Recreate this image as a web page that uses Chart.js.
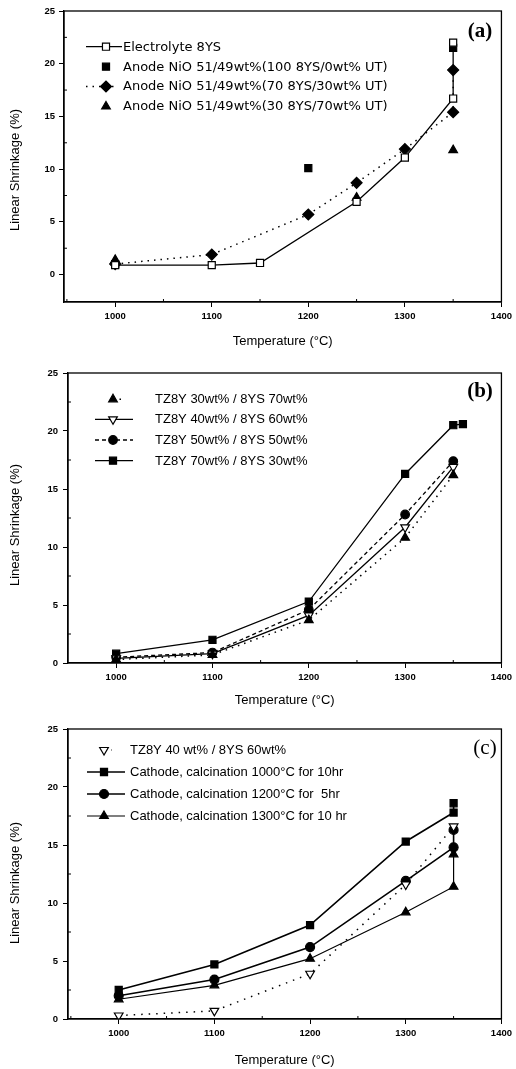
<!DOCTYPE html>
<html><head><meta charset="utf-8">
<script src="https://cdn.jsdelivr.net/npm/chart.js@4.4.1/dist/chart.umd.min.js"></script>
<style>
html,body{margin:0;padding:0;background:#fff;}
#wrap{position:relative;width:516px;height:1069px;overflow:hidden;background:#fff;}
canvas{position:absolute;left:0;}
</style></head><body>
<div id="wrap">
<canvas id="ca" width="516" height="350" style="top:0px"></canvas>
<canvas id="cb" width="516" height="362" style="top:350px"></canvas>
<canvas id="cc" width="516" height="357" style="top:712px"></canvas>
</div>
<script>
// ---------- tick labels ----------
const xTickLabels = [1000, 1100, 1200, 1300, 1400];
const xMinorTicks = [950, 1050, 1150, 1250, 1350];
const yTickLabels = [0, 5, 10, 15, 20, 25];
const yMinorTicks = [2.5, 7.5, 12.5, 17.5, 22.5];
const xTitle = 'Temperature (\u00B0C)';
const yTitle = 'Linear Shrinkage (%)';

// ---------- panel (a) ----------
const aNames = ['Electrolyte 8YS',
  'Anode NiO 51/49wt%(100 8YS/0wt% UT)',
  'Anode NiO 51/49wt%(70 8YS/30wt% UT)',
  'Anode NiO 51/49wt%(30 8YS/70wt% UT)'];
const aElectrolyteT = [1000, 1100, 1150, 1250, 1300, 1350, 1350];
const aElectrolyteS = [0.9, 0.9, 1.1, 6.9, 11.1, 16.7, 22.0];
const aAnode100T = [1000, 1200, 1350];
const aAnode100S = [1.0, 10.1, 21.5];
const aAnode70T = [1000, 1100, 1200, 1250, 1300, 1350, 1350];
const aAnode70S = [1.0, 1.9, 5.7, 8.7, 11.9, 15.4, 19.4];
const aAnode30T = [1000, 1250, 1350];
const aAnode30S = [1.4, 7.3, 11.8];

// ---------- panel (b) ----------
const bNames = ['TZ8Y 30wt% / 8YS 70wt%', 'TZ8Y 40wt% / 8YS 60wt%',
  'TZ8Y 50wt% / 8YS 50wt%', 'TZ8Y 70wt% / 8YS 30wt%'];
const bTemps = [1000, 1100, 1200, 1300, 1350];
const bTz30 = [0.3, 0.7, 3.7, 10.8, 16.2];
const bTz40 = [0.4, 0.8, 4.1, 11.7, 16.9];
const bTz50 = [0.5, 0.9, 4.6, 12.8, 17.4];
const bTz70T = [1000, 1100, 1200, 1300, 1350, 1360];
const bTz70 = [0.8, 2.0, 5.3, 16.3, 20.5, 20.6];

// ---------- panel (c) ----------
const cNames = ['TZ8Y 40 wt% / 8YS 60wt%',
  'Cathode, calcination 1000\u00B0C for 10hr',
  'Cathode, calcination 1200\u00B0C for  5hr',
  'Cathode, calcination 1300\u00B0C for 10 hr'];
const cTzT = [1000, 1100, 1200, 1300, 1350];
const cTz = [0.3, 0.7, 3.9, 11.6, 16.6];
const cCathT = [1000, 1100, 1200, 1300, 1350, 1350];
const cCath1000 = [2.5, 4.7, 8.1, 15.3, 17.8, 18.6];
const cCath1200 = [2.0, 3.4, 6.2, 11.9, 14.8, 16.3];
const cCath1300 = [1.7, 2.9, 5.2, 9.2, 11.4, 14.2];

function pts(xs, ys) { return xs.map((x, i) => ({x: x, y: ys[i]})); }

function ds(label, xs, ys, o) {
  return Object.assign({
    label: label, data: pts(xs, ys),
    borderColor: '#000', backgroundColor: '#000',
    pointBorderColor: '#000', pointBackgroundColor: '#000',
    pointBorderWidth: 1.2, borderWidth: 1.3, tension: 0,
    showLine: true, pointRadius: 5, pointHoverRadius: 5
  }, o);
}

const panelPlugin = {
  id: 'panelDeco',
  afterDraw(chart, args, opts) {
    const ctx = chart.ctx, a = chart.chartArea;
    ctx.save();
    // frame
    ctx.strokeStyle = '#000'; ctx.lineWidth = 1.3;
    ctx.strokeRect(a.left, a.top, a.right - a.left, a.bottom - a.top);
    // minor ticks (inward)
    ctx.lineWidth = 1;
    const xs = chart.scales.x, ys = chart.scales.y;
    ctx.beginPath();
    xMinorTicks.forEach(v => { const p = xs.getPixelForValue(v); if (p > a.left + 1 && p < a.right - 1) { ctx.moveTo(p, a.bottom); ctx.lineTo(p, a.bottom - 3); } });
    yMinorTicks.forEach(v => { const p = ys.getPixelForValue(v); if (p > a.top + 1 && p < a.bottom - 1) { ctx.moveTo(a.left, p); ctx.lineTo(a.left + 3, p); } });
    ctx.stroke();
    // y axis title
    ctx.save();
    ctx.fillStyle = '#000';
    ctx.font = '13px "Liberation Sans", Arial, sans-serif';
    ctx.textAlign = 'center'; ctx.textBaseline = 'middle';
    ctx.translate(15, opts.yTitleY); ctx.rotate(-Math.PI / 2);
    ctx.fillText(yTitle, 0, 0);
    ctx.restore();
    // legend
    const L = opts.legend;
    ctx.font = L.font; ctx.textBaseline = 'middle'; ctx.textAlign = 'left';
    chart.data.datasets.forEach((d, i) => {
      const y = L.rows[i];
      const seg = L.lines[i];
      if (seg) {
        ctx.save();
        ctx.strokeStyle = '#000'; ctx.lineWidth = d.borderWidth;
        ctx.setLineDash(d.borderDash || []);
        ctx.beginPath(); ctx.moveTo(seg[0], y); ctx.lineTo(seg[1], y); ctx.stroke();
        ctx.restore();
      }
      ctx.save();
      ctx.fillStyle = d.pointBackgroundColor; ctx.strokeStyle = '#000';
      ctx.lineWidth = d.pointBorderWidth;
      Chart.helpers.drawPoint(ctx, {pointStyle: d.pointStyle || 'circle', rotation: d.pointRotation || 0,
        radius: d.pointRadius, borderWidth: d.pointBorderWidth}, L.mx, y);
      ctx.restore();
      ctx.fillStyle = '#000';
      ctx.fillText(d.label, L.tx, y + 0.5);
    });
    // panel tag
    ctx.font = opts.tag.font; ctx.textAlign = 'center'; ctx.textBaseline = 'middle';
    ctx.fillText(opts.tag.text, opts.tag.x, opts.tag.y);
    ctx.restore();
  }
};

const tickFont = {family: '"Liberation Sans", Arial, sans-serif', size: 9.5, weight: 'bold'};
const titleFont = {family: '"Liberation Sans", Arial, sans-serif', size: 13};

function makeChart(id, g, datasets, legend, tag) {
  return new Chart(document.getElementById(id), {
    type: 'line',
    data: {datasets: datasets},
    plugins: [panelPlugin],
    options: {
      responsive: false, animation: false, events: [],
      layout: {padding: {top: g.top, right: g.right, left: 0, bottom: 0}},
      plugins: {legend: {display: false}, tooltip: {enabled: false},
        panelDeco: {legend: legend, tag: tag, yTitleY: g.yty}},
      scales: {
        x: {
          type: 'linear', min: g.xmin, max: 1400,
          afterBuildTicks: s => { s.ticks = xTickLabels.map(v => ({value: v})); },
          afterFit: s => { s.height = g.xh; },
          grid: {drawOnChartArea: false, drawTicks: true, tickLength: 5, color: '#000', lineWidth: 1},
          border: {display: true, color: '#000', width: 1.3},
          ticks: {autoSkip: false, maxRotation: 0, padding: 4, color: '#000', font: tickFont,
            callback: v => String(v)},
          title: {display: true, text: xTitle, color: '#000', font: titleFont,
            padding: {top: 0, bottom: g.xtp}}
        },
        y: {
          type: 'linear', min: g.ymin, max: 25,
          afterBuildTicks: s => { s.ticks = yTickLabels.map(v => ({value: v})); },
          afterFit: s => { s.width = g.left; },
          grid: {drawOnChartArea: false, drawTicks: true, tickLength: 5, color: '#000', lineWidth: 1},
          border: {display: true, color: '#000', width: 1.3},
          ticks: {autoSkip: false, padding: g.ypad, color: '#000', font: tickFont,
            callback: v => String(v)},
          title: {display: false}
        }
      }
    }
  });
}

// ----- chart (a) -----
makeChart('ca', {top: 11, right: 12, left: 64, xh: 48, xtp: 1, xmin: 947, ymin: -2.6, ypad: 4, yty: 170},
  [
    ds(aNames[0], aElectrolyteT, aElectrolyteS, {pointStyle: 'rect', pointRadius: 5, pointBackgroundColor: '#fff'}),
    ds(aNames[1], aAnode100T, aAnode100S, {pointStyle: 'rect', pointRadius: 5, showLine: false}),
    ds(aNames[2], aAnode70T, aAnode70S, {pointStyle: 'rectRot', pointRadius: 5.5, borderDash: [1.5, 5], borderWidth: 1.5}),
    ds(aNames[3], aAnode30T, aAnode30S, {pointStyle: 'triangle', pointRadius: 5, showLine: false})
  ],
  {font: '13px "DejaVu Sans", sans-serif', rows: [46.7, 66.7, 86.5, 106.5], mx: 106, tx: 123,
   lines: [[86, 122], null, [86, 114], null]},
  {text: '(a)', x: 480, y: 32, font: 'bold 21px "Liberation Serif", serif'});

// ----- chart (b) -----
makeChart('cb', {top: 23, right: 13, left: 68, xh: 49, xtp: 4, xmin: 950, ymin: 0, ypad: 5, yty: 175},
  [
    ds(bNames[0], bTemps, bTz30, {pointStyle: 'triangle', pointRadius: 5, borderDash: [1.5, 5], borderWidth: 1.5}),
    ds(bNames[1], bTemps, bTz40, {pointStyle: 'triangle', pointRotation: 180, pointRadius: 5, pointBackgroundColor: '#fff'}),
    ds(bNames[2], bTemps, bTz50, {pointStyle: 'circle', pointRadius: 4.3, borderDash: [4, 3]}),
    ds(bNames[3], bTz70T, bTz70, {pointStyle: 'rect', pointRadius: 5})
  ],
  {font: '13px "Liberation Sans", Arial, sans-serif', rows: [49.3, 69.3, 90, 110.7], mx: 113, tx: 155,
   lines: [[113, 124], [95, 133], [95, 133], [95, 133]]},
  {text: '(b)', x: 480, y: 41.7, font: 'bold 21px "Liberation Serif", serif'});

// ----- chart (c) -----
makeChart('cc', {top: 17, right: 9, left: 68, xh: 50, xtp: 1, xmin: 947, ymin: 0, ypad: 5, yty: 171},
  [
    ds(cNames[0], cTzT, cTz, {pointStyle: 'triangle', pointRotation: 180, pointRadius: 5, pointBackgroundColor: '#fff', borderDash: [1.5, 6], borderWidth: 1.5}),
    ds(cNames[1], cCathT, cCath1000, {pointStyle: 'rect', pointRadius: 5, borderWidth: 1.6}),
    ds(cNames[2], cCathT, cCath1200, {pointStyle: 'circle', pointRadius: 4.5, borderWidth: 1.6}),
    ds(cNames[3], cCathT, cCath1300, {pointStyle: 'triangle', pointRadius: 5, borderWidth: 1.2})
  ],
  {font: '13px "Liberation Sans", Arial, sans-serif', rows: [38, 60, 82, 104], mx: 104, tx: 130,
   lines: [[104, 112], [87, 125], [87, 125], [87, 125]]},
  {text: '(c)', x: 485, y: 36, font: '21px "Liberation Serif", serif'});
</script>
</body></html>
